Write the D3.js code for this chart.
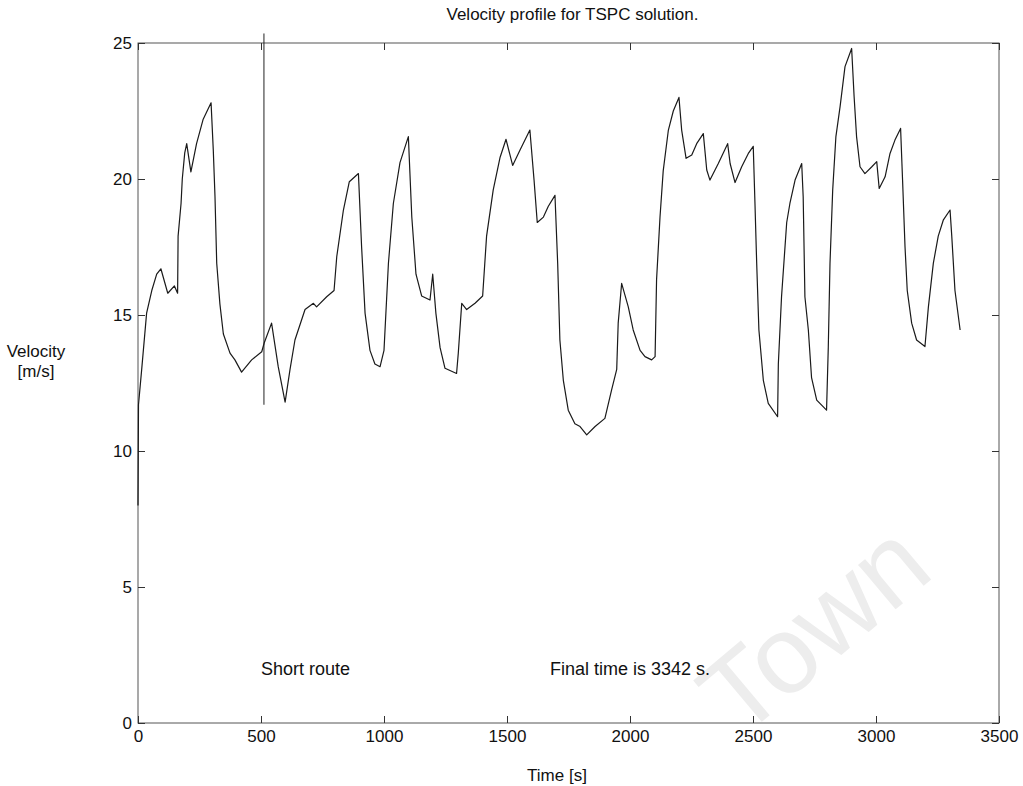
<!DOCTYPE html>
<html>
<head>
<meta charset="utf-8">
<script src="https://cdn.jsdelivr.net/npm/d3@7"></script>
<style>
  body { margin:0; background:white; }
  svg text { font-family: "Liberation Sans", Arial, sans-serif; fill:#111; }
</style>
</head>
<body>
<div id="chart"></div>
<script>
// velocity profile
var tiempo = [0,2,15,35,56,76,93,121,148,161,163,175,180,190,198,215,238,265,297,306,313,320,333,347,374,394,421,462,503,513,543,570,598,618,638,679,713,726,767,797,808,835,859,896,909,923,943,963,984,1000,1018,1038,1065,1099,1113,1130,1153,1187,1198,1211,1228,1248,1295,1302,1316,1336,1370,1401,1417,1444,1472,1496,1523,1553,1593,1610,1623,1648,1668,1695,1706,1715,1729,1749,1776,1797,1824,1858,1898,1925,1946,1952,1966,1993,2013,2041,2061,2088,2102,2108,2122,2135,2156,2176,2199,2210,2228,2251,2271,2298,2312,2325,2359,2397,2407,2427,2454,2481,2501,2508,2515,2524,2542,2562,2600,2603,2616,2637,2650,2671,2698,2704,2711,2725,2738,2759,2799,2806,2813,2824,2837,2854,2874,2901,2911,2921,2935,2955,2983,3003,3013,3037,3057,3077,3100,3108,3118,3127,3145,3165,3199,3213,3233,3253,3274,3301,3308,3321,3342];
var velocidad = [8,11.7,13.0,15.07,15.9,16.5,16.7,15.8,16.07,15.8,17.9,19.1,20.0,20.96,21.3,20.26,21.3,22.2,22.8,21.07,19.35,16.9,15.4,14.3,13.6,13.35,12.9,13.35,13.65,13.97,14.7,13.1,11.8,13.0,14.08,15.2,15.43,15.3,15.67,15.9,17.15,18.86,19.9,20.2,17.5,15.07,13.7,13.2,13.1,13.7,16.9,19.1,20.6,21.56,18.6,16.5,15.7,15.55,16.5,15.06,13.8,13.04,12.85,13.6,15.43,15.2,15.43,15.7,17.9,19.6,20.8,21.46,20.5,21.07,21.8,19.96,18.4,18.6,19.0,19.4,16.9,14.08,12.6,11.5,11.0,10.9,10.59,10.9,11.2,12.24,13.0,14.7,16.16,15.3,14.45,13.7,13.47,13.35,13.47,16.3,18.6,20.3,21.8,22.5,23.0,21.8,20.76,20.88,21.3,21.67,20.33,19.96,20.57,21.3,20.57,19.87,20.45,20.94,21.2,19.1,16.9,14.45,12.6,11.75,11.26,13.2,15.67,18.4,19.1,19.96,20.57,19.35,15.67,14.45,12.7,11.87,11.5,13.8,16.9,19.6,21.56,22.66,24.13,24.8,23.03,21.56,20.45,20.2,20.45,20.64,19.65,20.08,20.94,21.43,21.86,19.96,17.5,15.9,14.7,14.08,13.84,15.3,16.9,17.9,18.5,18.86,17.9,15.9,14.45];

var ticksX = [0,500,1000,1500,2000,2500,3000,3500];
var ticksY = [0,5,10,15,20,25];

// vertical marker line (short route)
var marcaT = [512,512];
var marcaV = [11.7,25.35];

var notas = [
  { t:500, v:2, txt:"Short route" },
  { t:1675, v:2, txt:"Final time is 3342 s." }
];

var W = 1023, H = 786;
var m = { top:43, right:24, bottom:63, left:138 };

var svg = d3.select("#chart").append("svg")
  .attr("width",W).attr("height",H);

// faint watermark of the scan
svg.append("text")
  .attr("transform","translate(740,740) rotate(-40)")
  .attr("font-size",110)
  .style("fill","#ededed")
  .text("Town");

var x = d3.scaleLinear().domain([0,3500]).range([m.left, W-m.right]);
var y = d3.scaleLinear().domain([0,25]).range([H-m.bottom, m.top]);

var g = svg.append("g");

// frame
g.append("rect")
  .attr("x",x(0)).attr("y",y(25))
  .attr("width",x(3500)-x(0)).attr("height",y(0)-y(25))
  .attr("fill","none")
  .attr("stroke","#555")
  .attr("stroke-width",1);

// inward ticks, all four sides
var tl = 7;
var ax = [
  d3.axisBottom(x).tickValues(ticksX).tickSize(-tl).tickFormat(d3.format("d")),
  d3.axisTop(x).tickValues(ticksX).tickSize(-tl).tickFormat(""),
  d3.axisLeft(y).tickValues(ticksY).tickSize(-tl),
  d3.axisRight(y).tickValues(ticksY).tickSize(-tl).tickFormat("")
];
var pos = ["translate(0,"+y(0)+")","translate(0,"+y(25)+")","translate("+x(0)+",0)","translate("+x(3500)+",0)"];

ax.forEach(function(a,i) {
  var sel = g.append("g").attr("transform",pos[i]).call(a);
  sel.select(".domain").remove();
  sel.selectAll("line").attr("stroke","#333");
  sel.selectAll("text")
    .attr("font-size",17)
    .style("font-family","Liberation Sans, Arial, sans-serif")
    .attr("fill","#111");
  if(i==0) sel.selectAll("text").attr("dy","0.2em").attr("y",16);
  if(i==2) sel.selectAll("text").attr("x",-6);
});

// marker line
svg.append("line")
  .attr("x1",x(marcaT[0])).attr("x2",x(marcaT[1]))
  .attr("y1",y(marcaV[0])).attr("y2",y(marcaV[1]))
  .attr("stroke","#222").attr("stroke-width",1);

// velocity curve
var pts = tiempo.map(function(t,i) { return [t, velocidad[i]]; });
var linea = d3.line()
  .x(function(d) { return x(d[0]); })
  .y(function(d) { return y(d[1]); });

svg.append("path")
  .datum(pts)
  .attr("d",linea)
  .attr("fill","none")
  .attr("stroke","#1a1a1a")
  .attr("stroke-width",1.2)
  .attr("stroke-linejoin","round");

// texts
svg.selectAll("text.nota")
  .data(notas).enter()
  .append("text").attr("class","nota")
  .attr("x",function(d) { return x(d.t); })
  .attr("y",function(d) { return y(d.v); })
  .attr("dy","0.35em")
  .attr("font-size",18)
  .text(function(d) { return d.txt; });

svg.append("text")
  .attr("x",(x(0)+x(3500))/2 + 4).attr("y",20)
  .attr("text-anchor","middle")
  .attr("font-size",17)
  .text("Velocity profile for TSPC solution.");

svg.append("text")
  .attr("x",557).attr("y",781)
  .attr("text-anchor","middle")
  .attr("font-size",17)
  .text("Time [s]");

var yl = svg.append("text")
  .attr("x",36).attr("y",357)
  .attr("text-anchor","middle")
  .attr("font-size",17);
yl.append("tspan").attr("x",36).text("Velocity");
yl.append("tspan").attr("x",36).attr("dy","1.2em").text("[m/s]");
</script>
</body>
</html>
